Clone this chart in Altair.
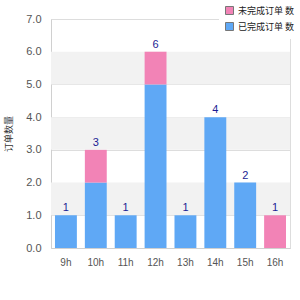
import altair as alt
import pandas as pd

hours = ["9h", "10h", "11h", "12h", "13h", "14h", "15h", "16h"]
series_a = "已完成订单 数"   # blue
series_b = "未完成订单 数"   # pink
values_a = [1, 2, 1, 5, 1, 4, 2, 0]
values_b = [0, 1, 0, 1, 0, 0, 0, 1]
y_title = "订单数量"
y_ticks = [0, 1, 2, 3, 4, 5, 6, 7]
band_lo = [1, 3, 5]
band_hi = [2, 4, 6]

rows = []
for h, a, b in zip(hours, values_a, values_b):
    rows.append({"hour": h, "series": series_a, "value": a, "order": 1})
    rows.append({"hour": h, "series": series_b, "value": b, "order": 2})
df = pd.DataFrame(rows)
totals = pd.DataFrame({"hour": hours, "total": [a + b for a, b in zip(values_a, values_b)]})
bands = pd.DataFrame({"lo": band_lo, "hi": band_hi})

FONT = "Liberation Sans"
yscale = alt.Scale(domain=[0, 7], nice=False)
xscale = alt.Scale(domain=hours, paddingInner=0.267, paddingOuter=0.133)

yaxis = alt.Axis(title=y_title, values=y_ticks, format=".1f", labelOverlap=False,
                 domainColor="#d0d0d0", ticks=False, gridColor="#dddddd",
                 labelPadding=10, labelColor="#555555", labelFontSize=11, labelFont=FONT,
                 titleFont="Noto Sans CJK SC", titleFontSize=9, titleFontWeight="normal",
                 titleColor="#333333", titlePadding=12)
xaxis = alt.Axis(title=None, labelAngle=0, domainColor="#d0d0d0", ticks=False,
                 labelPadding=9, labelColor="#555555", labelFontSize=10, labelFont=FONT)

band_layer = alt.Chart(bands).mark_rect(color="#f2f2f2").encode(
    y=alt.Y("lo:Q", scale=yscale, axis=yaxis),
    y2="hi:Q",
    x=alt.value(0),
    x2=alt.value(239),
)

bars = alt.Chart(df).mark_bar().encode(
    x=alt.X("hour:N", scale=xscale, sort=hours, axis=xaxis),
    y=alt.Y("value:Q", stack="zero", scale=yscale, axis=yaxis),
    color=alt.Color("series:N",
                    scale=alt.Scale(domain=[series_b, series_a], range=["#f283b6", "#5fa8f5"]),
                    legend=alt.Legend(title=None, orient="none", legendX=168, legendY=-19,
                                      fillColor="white", padding=6, symbolType="square",
                                      symbolSize=64, symbolStrokeColor="#777777",
                                      symbolStrokeWidth=1, labelFont="Noto Sans CJK SC",
                                      labelFontSize=9, labelColor="#222222", rowPadding=3,
                                      labelLimit=80)),
    order=alt.Order("order:Q"),
)

labels = alt.Chart(totals).mark_text(dy=-7, color="#1c1c94", fontSize=11, font=FONT).encode(
    x=alt.X("hour:N", scale=xscale, sort=hours, axis=xaxis),
    y=alt.Y("total:Q", scale=yscale, axis=yaxis),
    text="total:Q",
)

chart = alt.layer(band_layer, bars, labels).properties(
    width=239, height=229,
    autosize=alt.AutoSizeParams(type="none"),
    padding={"left": 51, "top": 19, "right": 10, "bottom": 52},
).configure_view(stroke="#d9d9d9").configure(background="white")

chart.save("out.html", embed_options={"renderer": "svg", "actions": False})
